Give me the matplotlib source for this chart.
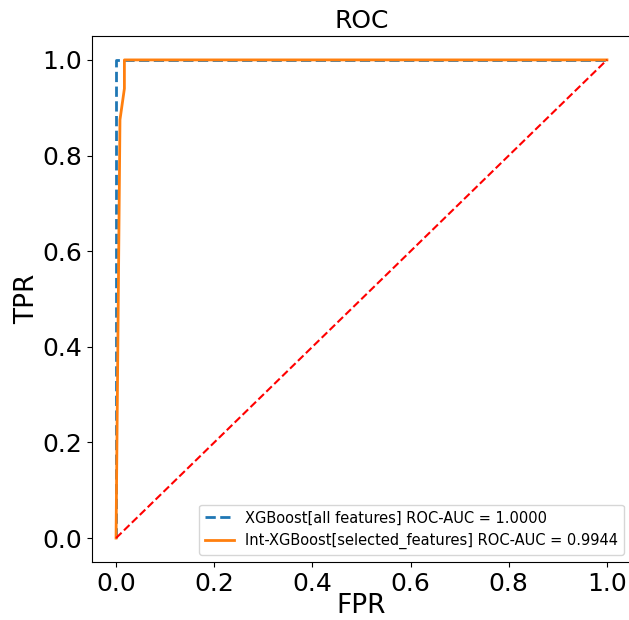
import matplotlib
matplotlib.use("Agg")
import matplotlib.pyplot as plt

fpr_all = [0.0, 0.0, 1.0]
tpr_all = [0.0, 1.0, 1.0]
fpr_sel = [0.0, 0.008, 0.017, 0.017, 1.0]
tpr_sel = [0.0, 0.875, 0.94, 1.0, 1.0]
label_all = "XGBoost[all features] ROC-AUC = 1.0000"
label_sel = "Int-XGBoost[selected_features] ROC-AUC = 0.9944"

fig = plt.figure(figsize=(6.29, 6.20), dpi=100)
ax = fig.add_axes([91.5/629, 1-562/620, 540/629, 526/620])
ax.plot(fpr_all, tpr_all, linestyle="--", color="#1f77b4", lw=2, label=label_all)
ax.plot(fpr_sel, tpr_sel, linestyle="-", color="#ff7f0e", lw=2, label=label_sel)
ax.plot([0, 1], [0, 1], "r--")
ax.set_title("ROC", fontsize=18)
ax.set_xlabel("FPR", fontsize=19, labelpad=-2)
ax.set_ylabel("TPR", fontsize=19, labelpad=1)
ax.tick_params(labelsize=18)
ax.legend(loc="lower right", fontsize=10.5)
fig.savefig("out.png", dpi=100)
